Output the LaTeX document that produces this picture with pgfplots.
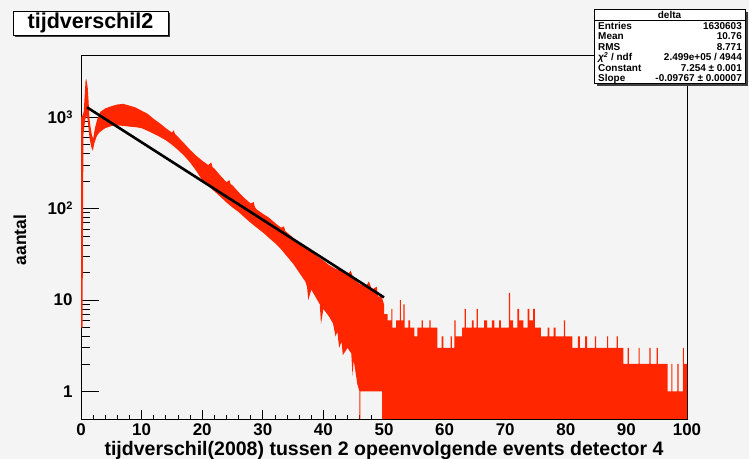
\documentclass[border=0pt]{standalone}
\usepackage{pgfplots}
\pgfplotsset{compat=1.18}
\usepackage{fontspec}
\setmainfont{Liberation Sans}
\definecolor{canvas}{RGB}{244,244,244}
\definecolor{histred}{RGB}{255,38,0}
\newcommand{\ticklab}{\bfseries\fontsize{17}{20}\selectfont}
\begin{document}
\begin{tikzpicture}[x=1bp,y=1bp]
\fill[canvas] (0,0) rectangle (749,459);
\useasboundingbox (0,0) rectangle (749,459);
\begin{axis}[
  at={(81bp,40bp)}, anchor=south west,
  scale only axis, width=606bp, height=364bp,
  xmin=0, xmax=100, ymode=log, ymin=0.5, ymax=4800,
  axis background/.style={fill=canvas},
  axis line style={black, line width=0.9bp},
  tick pos=left, tick align=inside,
  major tick length=9bp, minor tick length=9bp,
  tick style={black, line width=0.8bp},
  xtick={0,10,...,100},
  xticklabels={0,10,20,30,40,50,60,70,80,90,100},
  extra x ticks={2,4,6,8,12,14,16,18,22,24,26,28,32,34,36,38,42,44,46,48,52,54,56,58,62,64,66,68,72,74,76,78,82,84,86,88,92,94,96,98},
  extra x tick labels={},
  extra x tick style={major tick length=4.5bp},
  ytick={1,10,100,1000},
  yticklabels={1,10,10\raisebox{0.55ex}{\fontsize{11}{12}\selectfont 2},10\raisebox{0.55ex}{\fontsize{11}{12}\selectfont 3}},
  extra y ticks={1,10,100,1000},
  extra y tick labels={},
  extra y tick style={major tick length=18bp},
  xticklabel style={font=\ticklab, yshift=-1bp},
  yticklabel style={font=\ticklab, xshift=-5bp},
]
% main body of the histogram: band between upper and lower envelope
\addplot[fill=histred, draw=none, mark=none] coordinates {
(0.03,5) (0.03,1000) (0.25,1050) (0.45,1150) (0.6,1700) (0.75,2500) (0.85,2650)
(0.95,2450) (1.1,2150) (1.25,1500) (1.4,950) (1.6,760) (1.8,640) (2.0,580)
(2.3,760) (2.7,960) (3.2,1150) (4,1250) (5,1320) (6,1380) (7,1400) (8,1340)
(9,1280) (10,1180) (11,1090) (12,960) (13,860) (14,760) (15,680) (15.3,720)
(15.5,660) (16,610) (17,520) (18,440) (19,380) (20,335) (21,300) (21.5,320)
(21.7,285) (22,275) (23,230) (24,195) (24.5,205) (24.7,185) (25,180)
(26,152) (27,130) (28,114) (28.5,118) (28.7,104) (29,98) (30,88) (31,80)
(32,70) (33,62) (33.5,64) (33.7,57) (34,55) (35,48) (36,42) (37,37) (38,34)
(39,30) (40,27) (41,24) (42,22) (43,21) (44,19) (44.5,21) (45,17) (46,15)
(47,14) (47.5,16) (48,13) (48.8,14) (49,11) (49.6,11) (50,9)
(50,1) (46.1,1) (46.1,0.5) (45.95,0.5) (45.95,1) (45.6,1.2) (45,2.2)
(44.8,1.5) (44.6,2.6) (44,3) (43.2,2.5) (43,3.5) (42.6,3) (42.3,4.5) (42,4)
(41.6,5.5) (41,6.5) (40,8) (39.6,5.5) (39.4,9) (39,10) (38,13) (37.5,10)
(37.3,14) (37,16) (36,20) (35,25) (34,30) (33,36) (32,42) (31,48) (30,55)
(29,62) (28,70) (27,80) (26,92) (25,103) (24,117) (23,135) (22,155)
(21,178) (20,205) (19,260) (18,320) (17,380) (16,440) (15,500) (14,560)
(13,610) (12,660) (11,710) (10,760) (9,780) (8,790) (7,805) (6,815)
(5,800) (4,760) (3.5,720) (3.0,680) (2.6,620) (2.2,520) (1.95,430)
(1.7,470) (1.4,600) (1.2,800) (1.0,1050) (0.7,950) (0.4,650) (0.25,5)
};
% low-count tail, drawn down to the bottom of the frame
\addplot[const plot, fill=histred, draw=none, mark=none] coordinates {
(49.7,0.5) (49.7,7) (50.6,6) (51.2,8) (51.4,5) (52.0,6) (52.6,10) (52.8,6)
(53.2,9) (53.4,5) (54.0,6) (54.3,5) (55.0,4) (55.5,5) (56.2,6) (56.4,5)
(57.5,6) (57.7,5) (58.8,3) (59.5,4) (59.8,3) (61.0,4) (61.2,3) (61.6,6)
(61.8,4) (62.9,5) (63.3,8) (63.5,5) (64.5,6) (64.8,5) (65.3,8) (65.5,5)
(66.5,6) (67,5) (67.8,6) (68.2,5) (69.0,6) (69.3,5) (70.6,12) (70.8,6)
(71.3,5) (72.0,8) (72.3,6) (73.0,5) (73.7,8) (74.0,6) (74.6,8) (74.9,5)
(75.9,4) (77.0,5) (77.3,4) (78.0,5) (78.3,4) (79.7,6) (79.9,4) (81.1,3)
(82.0,4) (82.3,3) (83.2,4) (83.5,3) (84.8,4) (85.0,3) (86.8,4) (87.0,3)
(88.4,4) (88.6,3) (89.5,2) (90.2,3) (90.4,2) (92.0,3) (92.2,2) (93.8,3)
(94.0,2) (95.0,3) (95.2,2) (96.8,1) (97.4,2) (97.6,1) (98.4,2) (98.6,1)
(99.3,3) (99.5,2) (100,2) (100,0.5)
};
% exponential fit, expo: exp(7.254 - 0.09767 x), fitted from 1 to 50
\addplot[black, line width=2.6bp, mark=none] coordinates {(1,1282.2) (50,10.70)};
\end{axis}
% axis titles
\node[font=\bfseries\fontsize{19.6}{22}\selectfont, inner sep=0pt] at (384,8.5) {tijdverschil(2008) tussen 2 opeenvolgende events detector 4};
\node[font=\bfseries\fontsize{17.5}{20}\selectfont, inner sep=0pt, rotate=90] at (20,219) {aantal};
% histogram title box
\fill[black!75] (15,422) rectangle (170,446);
\draw[black, line width=0.8bp, fill=white] (13,424) rectangle (168,448);
\node[font=\bfseries\fontsize{21.6}{24}\selectfont, anchor=center] at (90.5,436) {tijdverschil2};
% statistics box
\fill[black!75] (597,373) rectangle (748,447);
\draw[black, line width=0.7bp, fill=white] (594,376) rectangle (745,450);
\draw[black, line width=0.5bp] (594,439) -- (745,439);
\begin{scope}[every node/.style={font=\bfseries\fontsize{10}{11}\selectfont, inner sep=0pt}]
\node at (669.5,444.5) {delta};
\node[anchor=west] at (598,433) {Entries};
\node[anchor=east] at (742,433) {1630603};
\node[anchor=west] at (598,422.5) {Mean};
\node[anchor=east] at (742,422.5) {10.76};
\node[anchor=west] at (598,412) {RMS};
\node[anchor=east] at (742,412) {8.771};
\node[anchor=west] at (598,401.5) {\itshape χ\textsuperscript{2}\upshape\ / ndf};
\node[anchor=east] at (742,401.5) {2.499e+05 / 4944};
\node[anchor=west] at (598,391) {Constant};
\node[anchor=east] at (742,391) {7.254 ± 0.001};
\node[anchor=west] at (598,380.5) {Slope};
\node[anchor=east] at (742,380.5) {-0.09767 ± 0.00007};
\end{scope}
\end{tikzpicture}
\end{document}
